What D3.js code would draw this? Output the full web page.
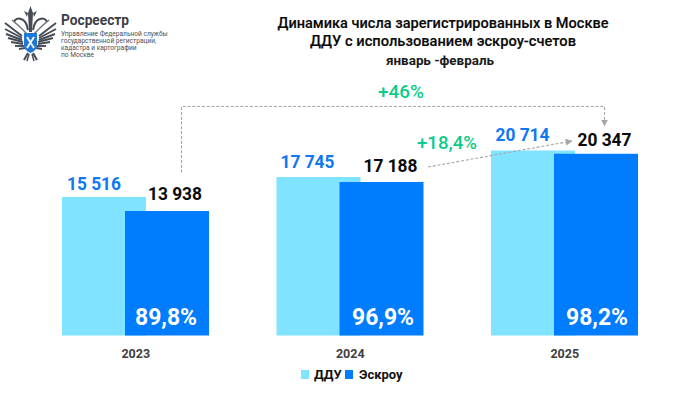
<!DOCTYPE html>
<html><head><meta charset="utf-8">
<script src="https://cdn.jsdelivr.net/npm/d3@7/dist/d3.min.js"></script>
<style>html,body{margin:0;padding:0;background:#fff}svg{display:block}text{font-family:Roboto,sans-serif}</style>
</head><body><svg id="c" width="698" height="393"></svg>
<script>
const years = ["2023","2024","2025"];
const dduValues = [15516,17745,20714];
const escrowValues = [13938,17188,20347];
const shareLabels = ["89,8%","96,9%","98,2%"];
const seriesNames = ["ДДУ","Эскроу"];
const titleLines = ["Динамика числа зарегистрированных в Москве","ДДУ с использованием эскроу-счетов"];
const subtitle = "январь -февраль";
const orgLines = ["Управление Федеральной службы","государственной регистрации,","кадастра и картографии","по Москве"];
const growthLabels = ["+46%","+18,4%"];
const fmt = v => String(v).replace(/\B(?=(\d{3})+$)/g," ");

const LIGHT="#80e3ff",DARK="#007cff",BLUE_T="#0f78f2",GREEN="#0ccb8c";
const svg=d3.select("#c");
const x=d3.scaleBand().domain(years).range([28.5,672]);
const y=d3.scaleLinear().domain([0,20714]).range([335.5,150.5]);
const barW=84, off=[33.5,96.5];
const g=svg.append("g");
[dduValues,escrowValues].forEach((vals,s)=>{
  g.selectAll(null).data(vals).join("rect")
   .attr("x",(d,i)=>x(years[i])+off[s]).attr("y",d=>y(d))
   .attr("width",barW).attr("height",d=>y(0)-y(d))
   .attr("fill",s?DARK:LIGHT);
});
// value labels: nudges relative to each bar
const dduDx=[32,31,31.5], dduDy=[7,9,9.5], escDx=[50,51,50.5], escDy=[11,9.5,8];
const squeezed=(sel,w)=>sel.attr("textLength",w).attr("lengthAdjust","spacingAndGlyphs");
g.selectAll(null).data(dduValues).join("text")
 .attr("x",(d,i)=>x(years[i])+off[0]+dduDx[i]).attr("y",(d,i)=>y(d)-dduDy[i])
 .attr("text-anchor","middle").attr("font-size",18.5).attr("font-weight",700).attr("fill",BLUE_T).text(fmt)
 .call(squeezed,54);
g.selectAll(null).data(escrowValues).join("text")
 .attr("x",(d,i)=>x(years[i])+off[1]+escDx[i]).attr("y",(d,i)=>y(d)-escDy[i])
 .attr("text-anchor","middle").attr("font-size",18.5).attr("font-weight",700).attr("fill","#0a0a0a").text(fmt)
 .call(squeezed,54);
g.selectAll(null).data(shareLabels).join("text")
 .attr("x",(d,i)=>x(years[i])+off[1]+[41,43.5,43][i]).attr("y",325)
 .attr("text-anchor","middle").attr("font-size",24.5).attr("font-weight",700).attr("fill","#fff").text(d=>d)
 .call(squeezed,62);
// category axis
const ax=svg.append("g").attr("transform","translate(0,335.5)").call(d3.axisBottom(x).tickSize(0).tickPadding(14));
ax.select(".domain").remove();
ax.selectAll("text").attr("font-family","Roboto,sans-serif").attr("font-size",12.5).attr("font-weight",700).attr("fill","#404040");
// titles
svg.append("g").selectAll("text").data(titleLines).join("text")
 .attr("x",443).attr("y",(d,i)=>27.5+i*18).attr("text-anchor","middle")
 .attr("font-size",15).attr("font-weight",500).attr("stroke","#0a0a0a").attr("stroke-width",0.15).attr("fill","#0a0a0a").text(d=>d)
 .each(function(d,i){d3.select(this).attr("textLength",[331,266][i]).attr("lengthAdjust","spacingAndGlyphs");});
svg.append("text").attr("x",440).attr("y",64.5).attr("text-anchor","middle").attr("font-size",13.5).attr("font-weight",700).attr("fill","#1a1a1a").text(subtitle).call(squeezed,108);
// legend
const lx=[301,345], tx=[314,359];
seriesNames.forEach((n,i)=>{
  svg.append("rect").attr("x",lx[i]).attr("y",370).attr("width",8).attr("height",9).attr("fill",i?DARK:LIGHT);
  svg.append("text").attr("x",tx[i]).attr("y",379).attr("font-size",13).attr("font-weight",700).attr("fill","#111").text(n);
});
// annotations
const defs=svg.append("defs");
defs.append("marker").attr("id","ah").attr("markerUnits","userSpaceOnUse").attr("viewBox","0 0 6 6").attr("refX",5.5).attr("refY",3).attr("markerWidth",7).attr("markerHeight",7).attr("orient","auto")
 .append("path").attr("d","M0,0L6,3L0,6Z").attr("fill","#a6a6a6");
const dash={stroke:"#a6a6a6","stroke-width":1.1,"stroke-dasharray":"3 1.8",fill:"none"};
const ap=svg.append("path").attr("d",d3.line()([[181.5,172.5],[181.5,106.5],[604.5,106.5],[604.5,126]])).attr("marker-end","url(#ah)");
const bp=svg.append("path").attr("d",d3.line()([[428,167],[572,141]])).attr("marker-end","url(#ah)");
[ap,bp].forEach(p=>Object.entries(dash).forEach(([k,v])=>p.attr(k,v)));
svg.append("text").attr("x",401).attr("y",98).attr("text-anchor","middle").attr("font-size",18.5).attr("font-weight",500).attr("fill",GREEN).text(growthLabels[0]).call(squeezed,46);
svg.append("text").attr("x",447).attr("y",148.5).attr("text-anchor","middle").attr("font-size",18.5).attr("font-weight",500).attr("fill",GREEN).text(growthLabels[1]).call(squeezed,60);
// org block
svg.append("text").attr("x",61).attr("y",25).attr("font-size",14).attr("font-weight",700).attr("fill","#3c4148").text("Росреестр").call(squeezed,68);
svg.append("g").selectAll("text").data(orgLines).join("text").attr("x",61).attr("y",(d,i)=>35.5+i*7.2)
 .attr("font-size",6.6).attr("fill","#4a4f55").text(d=>d);
// emblem (simplified): mirrored half around the shield axis
const half=`M28,30 C27,24 25,20 21,19 C18,18 15,19 14,22`;
const feathers=[[22,36,5,23],[22,38,5,29],[22,40,6,34],[23,42,8,38],[23,44,11,42],[24,46,15,46],[25,48,19,49]];
const em=svg.append("g");
[1,-1].forEach(s=>{
  const h=em.append("g").attr("transform",s<0?"translate(61,0) scale(-1,1)":null).attr("stroke","#454c55").attr("fill","none");
  feathers.forEach(f=>h.append("line").attr("x1",f[0]).attr("y1",f[1]).attr("x2",f[2]).attr("y2",f[3]).attr("stroke-width",1.9));
  h.append("path").attr("d",half).attr("stroke-width",2);
  h.append("path").attr("d","M27,34 L19,26 L12,20").attr("stroke-width",1.4).attr("stroke","#6a7078");
  h.append("path").attr("d","M28,53 L24,60").attr("stroke-width",2);
  h.append("path").attr("d","M29,54 L27,61").attr("stroke-width",1.5);
  h.append("path").attr("d","M27,17 L24,11 L28,13 Z").attr("fill","#454c55").attr("stroke","none");
});
em.append("path").attr("d","M30.5,6 L33,13 L32,32 L29,32 L28,13 Z").attr("fill","#454c55");
em.append("path").attr("d","M24,33 H37 V46 Q37,50 30.5,53 Q24,50 24,46 Z").attr("fill","#1f78d8");
em.append("path").attr("d","M27,37 L34,48 M34,37 L27,48").attr("stroke","#fff").attr("stroke-width",1.8);
</script></body></html>
